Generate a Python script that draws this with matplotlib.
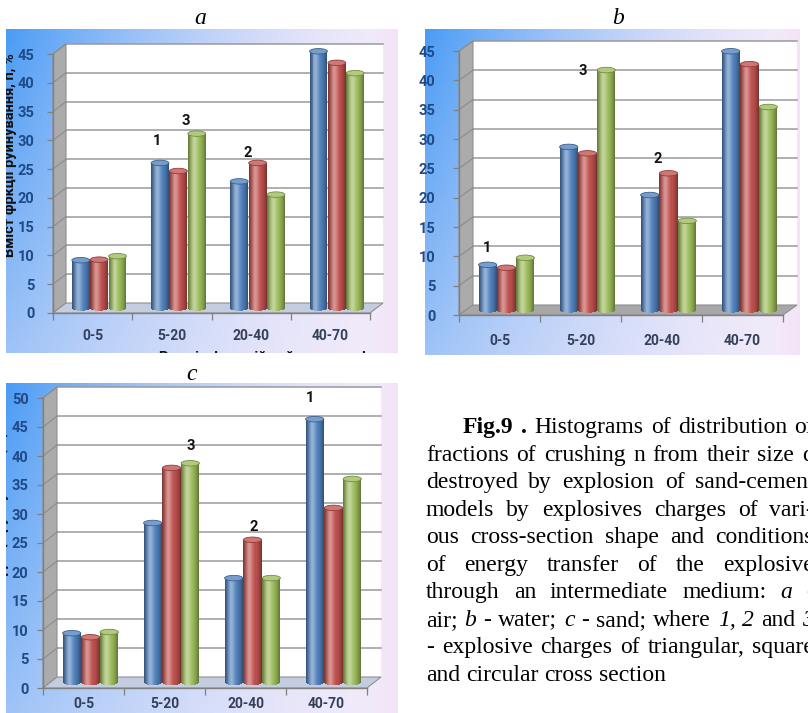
import numpy as np
import matplotlib
matplotlib.use("Agg")
import matplotlib.pyplot as plt
from matplotlib.patches import Polygon, Ellipse, Rectangle
from matplotlib.transforms import ScaledTranslation, IdentityTransform
from matplotlib.colors import to_rgb

W, H, DPI = 808, 713, 100

# ---------------- data ----------------
categories = ["0-5", "5-20", "20-40", "40-70"]
series_colors = ["#4F81BD", "#C0504D", "#9BBB59"]   # 1 triangular, 2 square, 3 circular

air_triangular = [8.3, 25.2, 22.0, 44.6]
air_square = [8.4, 23.8, 25.2, 42.6]
air_circular = [9.0, 30.3, 19.7, 40.8]

water_triangular = [7.7, 27.8, 19.6, 44.1]
water_square = [7.2, 26.7, 23.3, 41.9]
water_circular = [8.9, 40.9, 15.2, 34.6]

sand_triangular = [8.5, 27.5, 18.0, 45.4]
sand_square = [7.8, 37.0, 24.6, 30.1]
sand_circular = [8.7, 37.8, 18.0, 35.1]

y_ticks_45 = list(range(0, 50, 5))
y_ticks_50 = list(range(0, 55, 5))

y_label = "Вміст фркції руйнування, n, %"
x_label = "Розмір фракцій руйнування, d"

# ---------------- layout (pixel boxes: left, top, right, bottom) ----------------
panels = [
    dict(title="a", title_xy=(200, 24), bg=(6, 29, 398, 353), plot=(53, 54, 370, 313),
         ticks=y_ticks_45, depth=(13, 10), floor="#c4cde0", ypad=17, xpad=16,
         values=(air_triangular, air_square, air_circular),
         notes=[("1", 157, 141), ("3", 186, 121), ("2", 248, 153)]),
    dict(title="b", title_xy=(618, 24), bg=(425, 29, 800, 355), plot=(459, 51, 783, 315),
         ticks=y_ticks_45, depth=(14, 10), floor="#a7a7a7", ypad=22, xpad=19,
         values=(water_triangular, water_square, water_circular),
         notes=[("1", 487, 248), ("3", 583, 71), ("2", 658, 159)]),
    dict(title="c", title_xy=(192, 380), bg=(6, 383, 398, 713), plot=(43, 398, 367, 688),
         ticks=y_ticks_50, depth=(14, 11), floor="#c4cde0", ypad=13, xpad=9,
         values=(sand_triangular, sand_square, sand_circular),
         notes=[("1", 310, 398), ("3", 191, 446), ("2", 254, 527)]),
]

fig = plt.figure(figsize=(W / DPI, H / DPI), dpi=DPI)
fig.patch.set_facecolor("white")


def add_px_axes(box):
    l, t, r, b = box
    return fig.add_axes([l / W, 1 - b / H, (r - l) / W, (b - t) / H])


def gradient_image(n=240):
    xs = np.linspace(0, 1, n)
    ys = np.linspace(0, 1, n)
    X, Y = np.meshgrid(xs, ys)
    s = (1 - X) ** 1.6 * (1 - 0.5 * Y)
    blue = np.array([0.29, 0.61, 0.96])
    lav = np.array([0.95, 0.92, 0.98])
    img = lav + s[..., None] * (blue - lav)
    pink = np.clip((X - 0.93) / 0.07, 0, 1)[..., None]
    img = img * (1 - 0.6 * pink) + 0.6 * pink * np.array([0.96, 0.87, 0.96])
    return np.clip(img, 0, 1)


def mix(c, other, t):
    c = np.array(to_rgb(c))
    return tuple(c + (np.array(other) - c) * t)


def draw_cylinders(ax, xs, vals, width, color, tr, ey):
    base = np.array(to_rgb(color))
    n = 18
    edges = np.linspace(-1, 1, n + 1)
    mids = (edges[:-1] + edges[1:]) / 2
    sw = width / n
    vals = np.asarray(vals, dtype=float)
    for u in mids:
        light = 0.40 * np.exp(-((u + 0.3) / 0.38) ** 2)
        dark = 0.40 * abs(u) ** 2.2
        c = base * (1 - dark)
        c = c + (1 - c) * light
        drop = ey / 2 * np.sqrt(max(0.0, 1 - u * u))
        ax.bar(np.asarray(xs) + u * width / 2, vals + drop, width=sw * 1.08, bottom=-drop,
               color=tuple(c), linewidth=0, transform=tr, clip_on=False, zorder=3)
    for x, v in zip(xs, vals):
        ax.add_patch(Ellipse((x, v), width, ey, facecolor=mix(base, (1, 1, 1), 0.22),
                             edgecolor=mix(base, (0, 0, 0), 0.25), linewidth=0.6,
                             transform=tr, clip_on=False, zorder=4))


for spec in panels:
    # background of the chart area
    axbg = add_px_axes(spec["bg"])
    axbg.imshow(gradient_image(), extent=(0, 1, 0, 1), aspect="auto", origin="upper",
                interpolation="bilinear")
    axbg.set_xlim(0, 1)
    axbg.set_ylim(0, 1)
    axbg.set_axis_off()

    ticks = spec["ticks"]
    ymax = ticks[-1]
    ax = add_px_axes(spec["plot"])
    ax.set_facecolor("none")
    ax.set_xlim(-0.5, 3.5)
    ax.set_ylim(0, ymax)
    x0, x1 = -0.5, 3.5
    dx, dy = spec["depth"]

    tr_back = ax.transData + ScaledTranslation(dx / DPI, dy / DPI, fig.dpi_scale_trans)
    tr_mid = ax.transData + ScaledTranslation(0.5 * dx / DPI, 0.5 * dy / DPI, fig.dpi_scale_trans)

    def disp(x, y, frac):
        p = ax.transData.transform((x, y))
        return (p[0] + frac * dx, p[1] + frac * dy)

    # back wall and its gridlines
    ax.add_patch(Rectangle((x0, 0), x1 - x0, ymax, transform=tr_back, facecolor="white",
                           edgecolor="none", clip_on=False, zorder=0.5))
    for v in ticks[1:]:
        ax.plot([x0, x1], [v, v], color="#9a9a9a", lw=1.1, transform=tr_back,
                clip_on=False, zorder=0.6)

    # side wall
    wall = [disp(x0, 0, 0), disp(x0, ymax, 0), disp(x0, ymax, 1), disp(x0, 0, 1)]
    ax.add_patch(Polygon(wall, closed=True, transform=IdentityTransform(),
                         facecolor="#ababab", edgecolor="#8f8f8f", lw=0.8,
                         clip_on=False, zorder=0.7))
    for v in ticks[1:]:
        a_, b_ = disp(x0, v, 0), disp(x0, v, 1)
        ax.plot([a_[0], b_[0]], [a_[1], b_[1]], color="#8c8c8c", lw=0.8,
                transform=IdentityTransform(), clip_on=False, zorder=0.75)

    # floor
    floor = [disp(x0, 0, 0), disp(x1, 0, 0), disp(x1, 0, 1), disp(x0, 0, 1)]
    ax.add_patch(Polygon(floor, closed=True, transform=IdentityTransform(),
                         facecolor=spec["floor"], edgecolor="#8f8f8f", lw=0.8,
                         clip_on=False, zorder=0.8))

    # cylinders
    px_per_unit = (spec["plot"][3] - spec["plot"][1]) / ymax
    ey = 5.5 / px_per_unit
    width, step = 0.225, 0.232
    pos = np.arange(len(categories))
    for k, (vals, col) in enumerate(zip(spec["values"], series_colors)):
        draw_cylinders(ax, pos + (k - 1) * step, vals, width, col, tr_mid, ey)

    # axes, ticks and labels
    for side in ("top", "right"):
        ax.spines[side].set_visible(False)
    for side in ("left", "bottom"):
        ax.spines[side].set_color("#808080")
        ax.spines[side].set_linewidth(1.0)
        ax.spines[side].set_zorder(2)

    ax.set_yticks(ticks)
    ax.set_yticklabels([str(t) for t in ticks])
    ax.tick_params(axis="y", length=4, width=0.9, color="#808080", labelcolor="#1F4A86",
                   pad=spec["ypad"] * 0.72 - 2.9, labelsize=10.5)
    ax.set_xticks(pos)
    ax.set_xticklabels(categories)
    ax.tick_params(axis="x", length=0, labelcolor="#34405a", pad=spec["xpad"] * 0.72,
                   labelsize=10)
    ax.set_xticks(np.arange(-0.5, 4.0, 1.0), minor=True)
    ax.tick_params(axis="x", which="minor", length=5, width=0.9, color="#808080",
                   direction="out")
    for lbl in ax.get_yticklabels() + ax.get_xticklabels():
        lbl.set_fontfamily("Roboto")
        lbl.set_fontweight("bold")

    for txt, px, py in spec["notes"]:
        fig.text(px / W, 1 - py / H, txt, ha="center", va="center", fontsize=10.5,
                 fontfamily="Roboto", fontweight="bold", color="#111111", zorder=10)

    tx, ty = spec["title_xy"]
    fig.text(tx / W, 1 - ty / H, spec["title"], ha="center", va="baseline", fontsize=17,
             fontfamily="Liberation Serif", fontstyle="italic")

    spec["axbg"] = axbg

# cropped axis titles inside the chart areas
axa = panels[0]["axbg"]
t = axa.text(17 / W, 1 - 155 / H, y_label, rotation=90, ha="right", va="center",
             fontsize=10.5, fontfamily="Roboto", fontweight="bold", color="#111111",
             transform=fig.transFigure, clip_on=True)
t.set_clip_path(axa.patch)
t = axa.text(262 / W, 1 - 351 / H, x_label, ha="center", va="top",
             fontsize=10.5, fontfamily="Roboto", fontweight="bold", color="#111111",
             transform=fig.transFigure, clip_on=True)
t.set_clip_path(axa.patch)
axc = panels[2]["axbg"]
t = axc.text(9 / W, 1 - 520 / H, y_label, rotation=90, ha="right", va="center",
             fontsize=10.5, fontfamily="Roboto", fontweight="bold", color="#111111",
             transform=fig.transFigure, clip_on=True)
t.set_clip_path(axc.patch)

# ---------------- caption (justified) ----------------
caption = [
    "**Fig.9** **.** Histograms of distribution of",
    "fractions of crushing n from their size d",
    "destroyed by explosion of sand-cement",
    "models by explosives charges of vari-",
    "ous cross-section shape and conditions",
    "of energy transfer of the explosive",
    "through an intermediate medium: _a_ -",
    "air; _b_ - water; _c_ - sand; where _1,_ _2_ and _3_",
    "- explosive charges of triangular, square",
    "and circular cross section",
]
cap_left, cap_first, cap_right = 426, 463, 814
base0, line_step = 433, 27.55
cap_size = 17

renderer = fig.canvas.get_renderer()
for i, line in enumerate(caption):
    words = []
    for w in line.split(" "):
        style, weight = "normal", "normal"
        if w.startswith("**") and w.endswith("**"):
            w, weight = w[2:-2], "bold"
        elif w.startswith("_") and w.endswith("_"):
            w, style = w[1:-1], "italic"
        words.append(fig.text(0, 0, w, fontsize=cap_size, fontfamily="Liberation Serif",
                              fontstyle=style, fontweight=weight, va="baseline",
                              ha="left", color="black"))
    widths = [wt.get_window_extent(renderer).width for wt in words]
    start = cap_first if i == 0 else cap_left
    if i == len(caption) - 1:
        gap = 0.25 * cap_size * DPI / 72
    else:
        gap = (cap_right - start - sum(widths)) / (len(words) - 1)
    x = start
    yb = base0 + i * line_step
    for wt, wd in zip(words, widths):
        wt.set_position((x / W, 1 - yb / H))
        x += wd + gap

fig.savefig("out.png", dpi=DPI, facecolor="white")
